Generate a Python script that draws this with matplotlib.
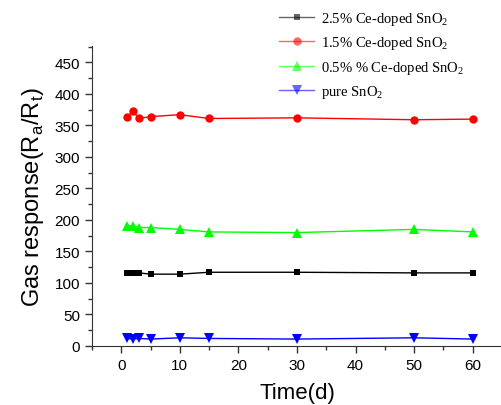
import matplotlib
matplotlib.use("Agg")
import matplotlib.pyplot as plt
from matplotlib.ticker import MultipleLocator

days = [1, 2, 3, 5, 10, 15, 30, 50, 60]
ce25 = [116, 116, 116, 114, 114, 117, 117, 116, 116]
ce15 = [363, 373, 361, 364, 367, 361, 362, 359, 360]
ce05 = [190, 191, 188, 188, 185, 181, 180, 185, 181]
pure = [12, 11, 12, 11, 13, 12, 11, 13, 11]

labels = ["2.5% Ce-doped SnO$_\\mathregular{2}$", "1.5% Ce-doped SnO$_\\mathregular{2}$",
          "0.5% % Ce-doped SnO$_\\mathregular{2}$", "pure SnO$_\\mathregular{2}$"]

fig = plt.figure(figsize=(5.01, 4.06), dpi=100)
ax = fig.add_axes([92/501, 1-347/406, 410/501, 300/406])

series = [(ce25, "black", "s", 5), (ce15, "red", "o", 6),
          (ce05, "#00ff00", "^", 6.5), (pure, "blue", "v", 6.5)]
handles = []
for (vals, c, m, ms), lab in zip(series, labels):
    h, = ax.plot(days, vals, color=c, marker=m, markersize=ms, lw=1.0,
                 label=lab, markeredgewidth=0)
    handles.append(h)

ax.set_xlim(-5, 65)
ax.set_ylim(0, 476)
ax.xaxis.set_major_locator(MultipleLocator(10))
ax.xaxis.set_minor_locator(MultipleLocator(5))
ax.yaxis.set_major_locator(MultipleLocator(50))
ax.yaxis.set_minor_locator(MultipleLocator(25))
for s in ["top", "right"]:
    ax.spines[s].set_visible(False)
for s in ["left", "bottom"]:
    ax.spines[s].set_color("#333333")
ax.tick_params(which="major", direction="out", length=5, width=1, colors="#333333",
               labelsize=11, labelcolor="black")
ax.tick_params(which="minor", direction="out", length=3, width=1, colors="#333333")
for t in ax.get_xticklabels() + ax.get_yticklabels():
    t.set_fontfamily("Liberation Sans")

ax.set_xlabel("Time(d)", fontsize=16, family="Liberation Sans", labelpad=7)
ax.set_ylabel("Gas response(R$_\\mathregular{a}$/R$_\\mathregular{t}$)", fontsize=17,
              family="Liberation Sans", labelpad=6)

leg = fig.legend(handles=handles, loc="upper left", bbox_to_anchor=(266/501, 1+2/406),
                 frameon=False, prop={"family": "Liberation Serif", "size": 10.5},
                 handlelength=2.4, handletextpad=0.5, labelspacing=0.5)
for lh in leg.get_lines():
    lh.set_alpha(0.6)
    lh.set_markerfacecolor(lh.get_color())

fig.savefig("out.png", dpi=100)
